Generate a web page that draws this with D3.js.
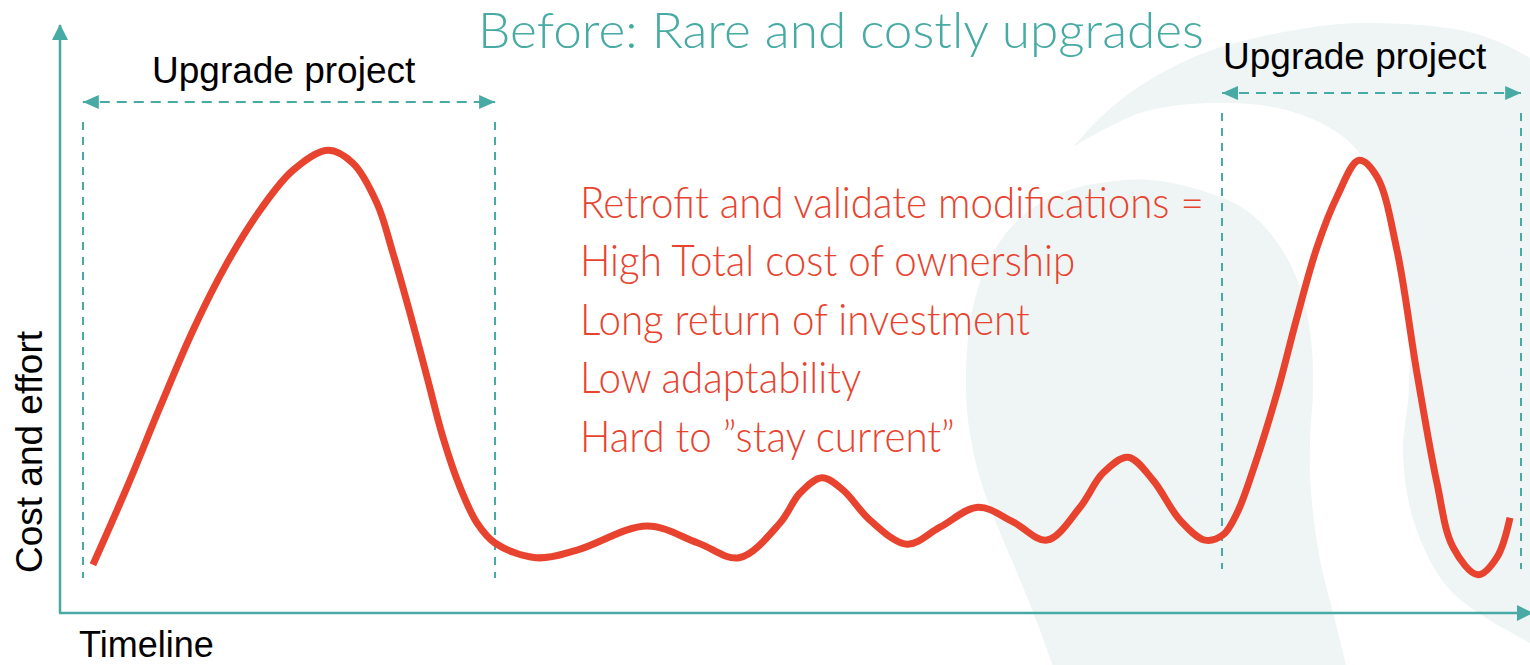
<!DOCTYPE html>
<html>
<head>
<meta charset="utf-8">
<script src="https://cdn.jsdelivr.net/npm/d3@7"></script>
<style>
  html, body { margin: 0; padding: 0; background: #fff; }
  #chart { width: 1530px; height: 665px; }
</style>
</head>
<body>
<div id="chart"></div>
<script>
// cost / effort over time
const timeline = [2.24, 4.56, 6.80, 9.05, 11.36, 13.61, 15.85, 18.23, 19.93, 21.56,
  22.65, 23.81, 24.97, 26.05, 27.21, 28.37, 29.59, 32.38, 35.17, 39.93,
  43.40, 46.19, 48.98, 50.34, 51.84, 53.27, 55.10, 57.62, 59.86, 62.45,
  64.83, 67.14, 69.39, 70.95, 72.65, 74.35, 76.19, 77.89, 79.12, 80.07,
  81.16, 82.79, 84.15, 85.51, 86.87, 88.37, 89.59, 90.95, 92.31, 93.67,
  94.76, 96.46, 97.76, 98.64];
const costEffort = [8.2, 21.4, 35.0, 48.1, 59.5, 68.5, 75.3, 78.7, 76.5, 69.7,
  61.2, 51.0, 40.1, 29.9, 21.4, 15.3, 11.9, 9.4, 10.7, 14.8,
  11.9, 9.4, 15.3, 20.4, 23.0, 20.9, 15.8, 11.7, 14.6, 18.0,
  15.5, 12.4, 18.0, 23.8, 26.5, 22.6, 15.8, 12.4, 13.3, 17.0,
  24.3, 37.4, 50.3, 62.2, 70.8, 77.0, 74.2, 61.7, 40.8, 22.1,
  11.2, 6.5, 9.5, 16.2];

// upgrade project windows (timeline units)
const spanLabels = ['Upgrade project', 'Upgrade project'];
const spanStart = [1.55, 79.05];
const spanEnd = [29.6, 99.4];

const title = 'Before: Rare and costly upgrades';
const notes = [
  'Retrofit and validate modifications =',
  'High Total cost of ownership',
  'Long return of investment',
  'Low adaptability',
  'Hard to \u201dstay current\u201d'
];
const xLabel = 'Timeline';
const yLabel = 'Cost and effort';

const W = 1530, H = 665;
const teal = '#47aaa4', red = '#e8432e', shade = '#eef5f4';

const svg = d3.select('#chart').append('svg')
  .attr('width', W).attr('height', H)
  .attr('viewBox', `0 0 ${W} ${H}`);

const x = d3.scaleLinear().domain([0, 100]).range([60, 1530]);
const y = d3.scaleLinear().domain([0, 100]).range([613, 25]);

// background swoosh (decoration)
const smooth = d3.line().curve(d3.curveCatmullRom.alpha(0.5));
const outerTop = [[1073, 147], [1100, 118], [1140, 86], [1207, 52], [1307, 28], [1373, 23], [1473, 33], [1530, 58], [1545, 70]];
const innerEdge = [[1545, 650], [1530, 643], [1450, 590], [1415, 525], [1403, 455], [1409, 387], [1406, 290], [1385, 205], [1357, 150], [1323, 124], [1273, 107], [1207, 103], [1140, 113], [1073, 147]];
svg.append('path')
  .attr('d', smooth(outerTop) + smooth(innerEdge).replace(/^M/, 'L') + 'Z')
  .attr('fill', shade);
const blob = [[1061, 690], [1040, 630], [1018, 575], [995, 520], [979, 475], [968, 420], [966, 375], [971, 318], [988, 262], [1020, 218], [1061, 193], [1107, 182], [1150, 180], [1200, 190], [1246, 210], [1277, 242], [1300, 287], [1311, 340], [1313, 390], [1310, 440], [1311, 492], [1320, 560], [1335, 620], [1352, 690]];
svg.append('path')
  .attr('d', smooth(blob) + 'Z')
  .attr('fill', shade);

// markers
const defs = svg.append('defs');
defs.append('marker')
  .attr('id', 'axisHead')
  .attr('viewBox', '0 0 16 16')
  .attr('refX', 15).attr('refY', 8)
  .attr('markerUnits', 'userSpaceOnUse')
  .attr('markerWidth', 16).attr('markerHeight', 16)
  .attr('orient', 'auto')
  .append('path').attr('d', 'M0,0L16,8L0,16Z').attr('fill', teal);
defs.append('marker')
  .attr('id', 'spanHead')
  .attr('viewBox', '0 0 16 14')
  .attr('refX', 16).attr('refY', 7)
  .attr('markerUnits', 'userSpaceOnUse')
  .attr('markerWidth', 16).attr('markerHeight', 14)
  .attr('orient', 'auto-start-reverse')
  .append('path').attr('d', 'M0,0L16,7L0,14Z').attr('fill', teal);

// axes
svg.append('line')
  .attr('x1', x(0)).attr('y1', y(0))
  .attr('x2', x(0)).attr('y2', y(100))
  .attr('stroke', teal).attr('stroke-width', 2.5)
  .attr('marker-end', 'url(#axisHead)');
svg.append('line')
  .attr('x1', x(0) - 1).attr('y1', y(0))
  .attr('x2', x(100) + 2).attr('y2', y(0))
  .attr('stroke', teal).attr('stroke-width', 2.5)
  .attr('marker-end', 'url(#axisHead)');

svg.append('text')
  .attr('x', 79).attr('y', 657)
  .attr('font-family', '"Liberation Sans", Arial, sans-serif')
  .attr('font-size', 36).attr('fill', '#000')
  .text(xLabel);
svg.append('text')
  .attr('transform', 'translate(42,573) rotate(-90)')
  .attr('font-family', '"Liberation Sans", Arial, sans-serif')
  .attr('font-size', 37).attr('fill', '#000')
  .text(yLabel);

// upgrade windows
const arrowY = [102, 93];
const dashTop = [122, 113];
const dashBottom = [578, 569];
const labelX = [152, 1223];
const labelY = [83, 69];

spanLabels.forEach((lab, i) => {
  const g = svg.append('g');
  [spanStart[i], spanEnd[i]].forEach(t => {
    g.append('line')
      .attr('x1', Math.round(x(t))).attr('x2', Math.round(x(t)))
      .attr('y1', dashTop[i]).attr('y2', dashBottom[i])
      .attr('stroke', teal).attr('stroke-width', 2)
      .attr('stroke-dasharray', '8,7');
  });
  g.append('line')
    .attr('x1', x(spanStart[i])).attr('x2', x(spanEnd[i]))
    .attr('y1', arrowY[i]).attr('y2', arrowY[i])
    .attr('stroke', teal).attr('stroke-width', 2)
    .attr('stroke-dasharray', '10,7')
    .attr('marker-start', 'url(#spanHead)')
    .attr('marker-end', 'url(#spanHead)');
  g.append('text')
    .attr('x', labelX[i]).attr('y', labelY[i])
    .attr('font-family', '"Liberation Sans", Arial, sans-serif')
    .attr('font-size', 37).attr('fill', '#000')
    .text(lab);
});

// cost curve
const pts = timeline.map((t, i) => ({ t, c: costEffort[i] }));
svg.append('path')
  .datum(pts)
  .attr('d', d3.line().x(d => x(d.t)).y(d => y(d.c)).curve(d3.curveCatmullRom.alpha(0.5)))
  .attr('fill', 'none')
  .attr('stroke', red)
  .attr('stroke-width', 7);

// light text, squeezed to the reference width
const lightFont = 'Lato, "Open Sans", "Noto Sans", sans-serif';
const tt = svg.append('text')
  .attr('font-family', lightFont).attr('font-weight', 300)
  .attr('font-size', 50).attr('fill', teal)
  .text(title);
const tw = tt.node().getComputedTextLength();
tt.attr('transform', `translate(478,48) scale(${726 / tw},1)`);

const noteG = svg.append('g');
const noteTexts = noteG.selectAll('text')
  .data(notes)
  .join('text')
  .attr('x', 0)
  .attr('y', (d, i) => i * 58.5)
  .attr('font-family', lightFont).attr('font-weight', 300)
  .attr('font-size', 43).attr('fill', red)
  .text(d => d);
const nw = noteTexts.node().getComputedTextLength();
noteG.attr('transform', `translate(580,218) scale(${624 / nw},1)`);
</script>
</body>
</html>
